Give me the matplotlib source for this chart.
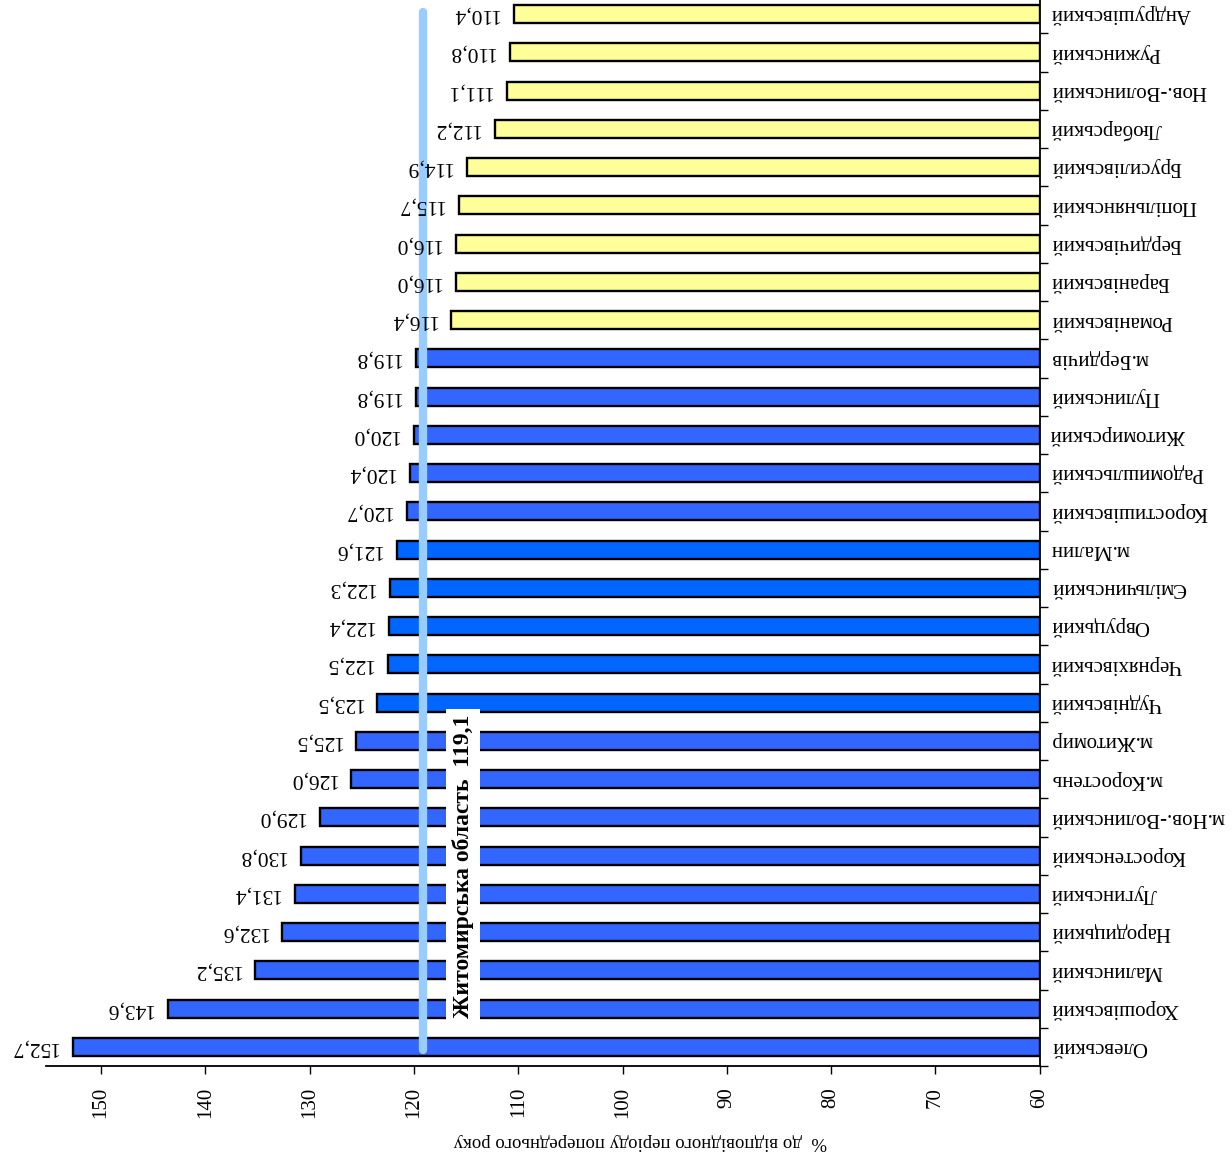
import matplotlib
matplotlib.use("Agg")
import matplotlib.pyplot as plt
from matplotlib.ticker import FixedLocator

# ---- data (bottom to top in the picture) ----
districts = [
    "Олевський", "Хорошівський", "Малинський", "Народицький", "Лугинський",
    "Коростенський", "м.Нов.-Волинський", "м.Коростень", "м.Житомир", "Чуднівський",
    "Черняхівський", "Овруцький", "Ємільчинський", "м.Малин", "Коростишівський",
    "Радомишльський", "Житомирський", "Пулинський", "м.Бердичів", "Романівський",
    "Баранівський", "Бердичівський", "Попільнянський", "Брусилівський", "Любарський",
    "Нов.-Волинський", "Ружинський", "Андрушівський",
]
values = [
    152.7, 143.6, 135.2, 132.6, 131.4,
    130.8, 129.0, 126.0, 125.5, 123.5,
    122.5, 122.4, 122.3, 121.6, 120.7,
    120.4, 120.0, 119.8, 119.8, 116.4,
    116.0, 116.0, 115.7, 114.9, 112.2,
    111.1, 110.8, 110.4,
]
region_name = "Житомирська область"
region_value = 119.1
x_ticks = [60, 70, 80, 90, 100, 110, 120, 130, 140, 150]
x_label = "%  до відповідного періоду попереднього року"

# ---- style ----
BLUE = "#3366FF"
BLUE2 = "#0066FF"
YELLOW = "#FFFF99"
bright = {"Чуднівський", "Черняхівський", "Овруцький", "Ємільчинський", "м.Малин"}
colors = []
for d, v in zip(districts, values):
    if v < region_value:
        colors.append(YELLOW)
    elif d in bright:
        colors.append(BLUE2)
    else:
        colors.append(BLUE)

plt.rcParams["font.family"] = ["Liberation Serif", "DejaVu Serif"]

fig = plt.figure(figsize=(12.32, 11.67), dpi=100)
ax = fig.add_axes([0.037, 0.0865, 0.807, 0.9135])

y = list(range(len(districts)))
base = 60
ax.barh(y, [v - base for v in values], left=base, height=0.47,
        color=colors, edgecolor="black", linewidth=1.7, zorder=2)

ax.set_xlim(155.3, 60)
ax.set_ylim(-0.5, 27.37)

# value labels
for yi, v in zip(y, values):
    ax.annotate(f"{v:.1f}".replace(".", ","), xy=(v, yi), xytext=(-10.5, 0),
                textcoords="offset points", rotation=180, ha="right", va="center",
                fontsize=15.5, zorder=4)

# region line and label
ax.plot([region_value, region_value], [-0.08, 27.05], color="#99CCFF",
        linewidth=6, solid_capstyle="round", zorder=3)
ax.text(115.3, 4.73, f"{region_name}  {str(region_value).replace('.', ',')}",
        rotation=90, ha="center", va="center", fontsize=17, fontweight="bold",
        bbox=dict(facecolor="white", edgecolor="none", pad=4), zorder=5)

# spines
for s in ["top", "left"]:
    ax.spines[s].set_visible(False)
ax.spines["bottom"].set_linewidth(1.3)
ax.spines["right"].set_linewidth(1.3)

# x axis
ax.xaxis.set_major_locator(FixedLocator(x_ticks))
ax.tick_params(axis="x", direction="out", length=6, width=1, pad=9, labelsize=15,
               labelrotation=90)
for lab in ax.get_xticklabels():
    lab.set_va("top")

# y axis on the right
ax.yaxis.tick_right()
ax.set_yticks(y, labels=districts)
ax.tick_params(axis="y", which="major", length=0, pad=8, labelsize=15)
for lab in ax.get_yticklabels():
    lab.set_rotation(180)
    lab.set_va("center")
    lab.set_ha("left")
ax.yaxis.set_minor_locator(FixedLocator([i - 0.5 for i in range(len(districts) + 1)]))
ax.tick_params(axis="y", which="minor", direction="out", length=6, width=1,
               right=True, left=False)

fig.text(640 / 1232, 0.022, x_label, rotation=180, ha="center", va="center",
         fontsize=13.5)

fig.savefig("out.png", dpi=100)
